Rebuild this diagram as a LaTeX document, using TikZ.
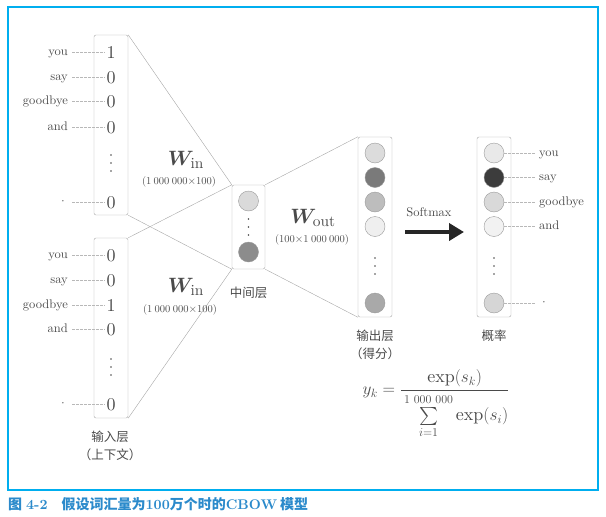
\documentclass[tikz,border=0pt]{standalone}
\usepackage{amsmath,amssymb,bm}
\usepackage{fontspec}
\setmainfont{lmroman10-regular.otf}[BoldFont=lmroman10-bold.otf,ItalicFont=lmroman10-italic.otf]
\newfontfamily\cjk{Noto Sans CJK SC}
\usetikzlibrary{arrows.meta}
\definecolor{framec}{HTML}{00AEEF}
\definecolor{capc}{HTML}{2B8ACB}
\definecolor{linec}{HTML}{A6A6A6}
\definecolor{txtc}{HTML}{4A4A4A}
\definecolor{rimc}{HTML}{9A9A9A}
\newcommand\gp{\hspace{0.22em}}
\tikzset{
  lyr/.style={draw=linec,rounded corners=2pt,minimum width=34pt,minimum height=180pt,inner sep=0pt},
  neu/.style={circle,draw=rimc,minimum size=20pt,inner sep=0pt},
  num/.style={font=\fontsize{18}{18}\selectfont,text=txtc,inner sep=1pt,text height=12.5pt,text depth=0pt},
  word/.style={font=\fontsize{12.5}{13}\selectfont,text=txtc,inner xsep=4pt,inner ysep=2pt,text height=9pt,text depth=3pt},
  ldash/.style={draw=linec!80,thin,dash pattern=on 2.5pt off 1.5pt},
  wline/.style={draw=linec,thin},
  zh/.style={font=\cjk\fontsize{12.5}{18}\selectfont,text=txtc,align=center},
  wlab/.style={font=\fontsize{22}{22}\selectfont,text=txtc},
  dimlab/.style={font=\fontsize{10.5}{11}\selectfont,text=txtc}
}

\begin{document}
\begin{tikzpicture}[x=1pt,y=-1pt]
\useasboundingbox (0,0) rectangle (606,517);
\draw[framec,line width=1.5pt] (8,7) rectangle (598,490);

\node[lyr] (ctxA) at (111,125) {};
\node[lyr] (ctxB) at (111,328) {};
\node[lyr,minimum width=33pt,minimum height=84pt] (hid) at (248.5,227) {};
\node[lyr] (out) at (375,227) {};
\node[lyr] (prob) at (494,227) {};

\draw[wline] (ctxA.north east) -- (hid.north west);
\draw[wline] (ctxA.south east) -- (hid.south west);
\draw[wline] (ctxB.north east) -- (hid.north west);
\draw[wline] (ctxB.south east) -- (hid.south west);
\draw[wline] (hid.north east) -- (out.north west);
\draw[wline] (hid.south east) -- (out.south west);

\foreach \i/\w/\v/\y in {1/you/1/52,2/say/0/77,3/goodbye/0/101,4/and/0/127,5/·/0/202}{
  \node[num] (a\i) at (111,\y) {\v};
  \node[word,anchor=east] (wa\i) at (72,\y) {\w};
  \draw[ldash] (wa\i) -- (a\i);}
\foreach \i/\w/\v/\y in {1/you/0/255,2/say/0/280,3/goodbye/1/305,4/and/0/329,5/·/0/404}{
  \node[num] (b\i) at (111,\y) {\v};
  \node[word,anchor=east] (wb\i) at (72,\y) {\w};
  \draw[ldash] (wb\i) -- (b\i);}

\node[neu,fill={rgb,255:red,218;green,218;blue,218}] (h1) at (248.5,201) {};
\node[neu,fill={rgb,255:red,140;green,140;blue,140}] (h2) at (248.5,252) {};

\foreach \i/\g/\y in {1/220/153,2/122/177.5,3/189/202,4/239/226.5,5/169/303}{
  \node[neu,fill={rgb,255:red,\g;green,\g;blue,\g}] (o\i) at (375,\y) {};}

\foreach \i/\g/\w/\y in {1/233/you/153,2/60/say/177.5,3/217/goodbye/202,4/242/and/226.5,5/214/·/303}{
  \node[neu,fill={rgb,255:red,\g;green,\g;blue,\g}] (p\i) at (494,\y) {};
  \node[word,anchor=west] (wp\i) at (535,\y) {\w};
  \draw[ldash] (p\i) -- (wp\i);}

\foreach \x/\y in {111/163,111/367,248.5/227,375/266,494/266}{
  \foreach \d in {-8,0,8}{\fill[txtc] (\x,\y+\d) circle (0.8pt);}}

\node[wlab] (wA) at (186,160) {$\bm{W}_{\mathrm{in}}$};
\node[dimlab] (dA) at (179,182) {(1\gp000\gp000$\times$100)};
\node[wlab] (wB) at (186,287) {$\bm{W}_{\mathrm{in}}$};
\node[dimlab] (dB) at (180,310) {(1\gp000\gp000$\times$100)};
\node[wlab] (wC) at (313,218) {$\bm{W}_{\mathrm{out}}$};
\node[dimlab] (dC) at (312,240) {(100$\times$1\gp000\gp000)};

\node[zh] (lin) at (110,446) {输入层\\（上下文）};
\node[zh] (lhid) at (248.5,293) {中间层};
\node[zh] (lout) at (375,345) {输出层\\（得分）};
\node[zh] (lprob) at (494,336) {概率};

\coordinate (smS) at (405,232);
\coordinate (smE) at (464,232);
\draw[line width=3.8pt,black!85,-{Triangle[length=15pt,width=17pt]}] (smS) -- (smE);
\node[word] (smax) at (429,213) {Softmax};

\node[text=txtc,font=\fontsize{18}{20}\selectfont] (fml) at (436,404)
  {$y_k=\dfrac{\exp(s_k)}{\rule{0pt}{3.6ex}\sum\limits_{i=1}^{1\gp000\gp000}\exp(s_i)}$};

\node[anchor=base west,text=capc,font=\fontsize{14}{14}\selectfont\bfseries,inner sep=0pt] (cap) at (8,509)
  {{\cjk 图}\hspace{4pt}4-2\hspace{14pt}{\cjk 假设词汇量为}100{\cjk 万个时的}CBOW\hspace{3pt}{\cjk 模型}};
\end{tikzpicture}
\end{document}
